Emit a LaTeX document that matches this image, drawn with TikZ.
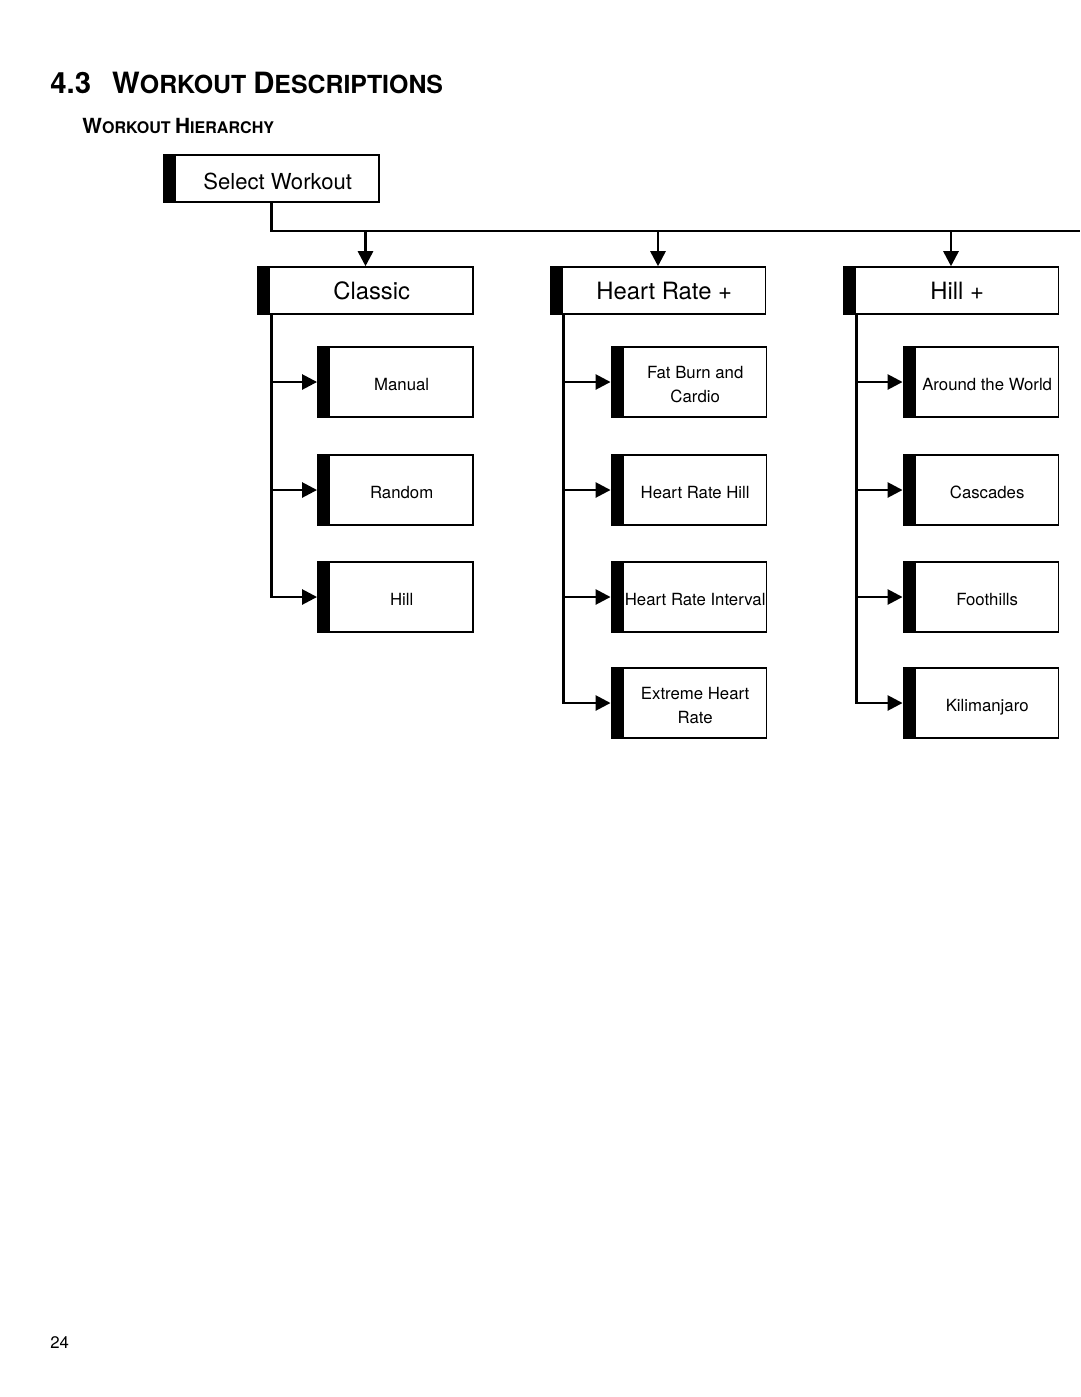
\documentclass[tikz,border=0pt]{standalone}
\usepackage{fontspec}
\setmainfont{TeX Gyre Heros}
\usetikzlibrary{arrows.meta}
\newcommand\wtxt[2][2.3pt]{\raisebox{-#1}[\height][\depth]{\begin{tabular}{@{\hspace{7pt}}c@{}}#2\end{tabular}}}

\begin{document}
\begin{tikzpicture}[x=0.5667pt,y=-0.5667pt,
  wbox/.style={draw,line width=0.9pt,inner sep=0pt,
    path picture={\fill (path picture bounding box.north west) rectangle ([xshift=7pt]path picture bounding box.south west);}},
  topbox/.style={wbox,minimum width=122pt,minimum height=26.6pt,font=\fontsize{13.5}{16}\selectfont},
  subbox/.style={wbox,minimum width=88pt,minimum height=39.7pt,font=\fontsize{9.5}{13.6}\selectfont},
  link/.style={line width=1.5pt},
  arr/.style={link,-{Triangle[length=8.5pt,width=8.5pt]}}]
\useasboundingbox (0,0) rectangle (1080,1397);

\node[anchor=base west,inner sep=0pt,font=\bfseries] (ttl) at (50,93) {{\fontsize{16.6}{20}\selectfont 4.3\hspace{12pt}W}{\fontsize{14.1}{16}\selectfont ORKOUT }{\fontsize{16.6}{20}\selectfont D}{\fontsize{14.1}{16}\selectfont ESCRIPTIONS}};
\node[anchor=base west,inner sep=0pt,font=\bfseries] (sub) at (82,133) {{\fontsize{11.8}{14}\selectfont W}{\fontsize{9.1}{11}\selectfont ORKOUT }{\fontsize{11.8}{14}\selectfont H}{\fontsize{9.1}{11}\selectfont IERARCHY}};

\node[topbox,font=\fontsize{12.5}{15}\selectfont] (sel) at (271.5,178.5) {\wtxt[3pt]{Select Workout}};
\node[topbox] (cls) at (365.5,290.5) {\wtxt[1.7pt]{Classic}};
\node[topbox] (hrp) at (658,290.5) {\wtxt[1.7pt]{Heart Rate +}};
\node[topbox] (hlp) at (951,290.5) {\wtxt[1.7pt]{Hill +}};

\node[subbox] (man) at (395.5,382) {\wtxt{Manual}};
\node[subbox] (rnd) at (395.5,490) {\wtxt{Random}};
\node[subbox] (hil) at (395.5,597) {\wtxt{Hill}};

\node[subbox] (fbc) at (689,382) {\wtxt{Fat Burn and\\Cardio}};
\node[subbox] (hrh) at (689,490) {\wtxt{Heart Rate Hill}};
\node[subbox] (hri) at (689,597) {\wtxt{Heart Rate Interval}};
\node[subbox] (ehr) at (689,703) {\wtxt{Extreme Heart\\Rate}};

\node[subbox] (atw) at (981,382) {\wtxt{Around the World}};
\node[subbox] (csc) at (981,490) {\wtxt{Cascades}};
\node[subbox] (fth) at (981,597) {\wtxt{Foothills}};
\node[subbox] (kil) at (981,703) {\wtxt{Kilimanjaro}};

\coordinate (bus) at (271.5,231);
\coordinate (busend) at (1080,231);
\draw[link] (sel.south) -- (bus) -- (busend);
\draw[arr] (cls.north |- bus) -- (cls.north);
\draw[arr] (hrp.north |- bus) -- (hrp.north);
\draw[arr] (hlp.north |- bus) -- (hlp.north);

\coordinate (clsT) at ([xshift=8pt]cls.south west);
\draw[arr] (clsT) |- (man.west);
\draw[arr] (clsT) |- (rnd.west);
\draw[arr] (clsT) |- (hil.west);

\coordinate (hrpT) at ([xshift=8pt]hrp.south west);
\draw[arr] (hrpT) |- (fbc.west);
\draw[arr] (hrpT) |- (hrh.west);
\draw[arr] (hrpT) |- (hri.west);
\draw[arr] (hrpT) |- (ehr.west);

\coordinate (hlpT) at ([xshift=8pt]hlp.south west);
\draw[arr] (hlpT) |- (atw.west);
\draw[arr] (hlpT) |- (csc.west);
\draw[arr] (hlpT) |- (fth.west);
\draw[arr] (hlpT) |- (kil.west);

\node[anchor=base west,inner sep=0pt,font=\fontsize{9.5}{11}\selectfont] (pg) at (50,1348) {24};
\end{tikzpicture}
\end{document}
